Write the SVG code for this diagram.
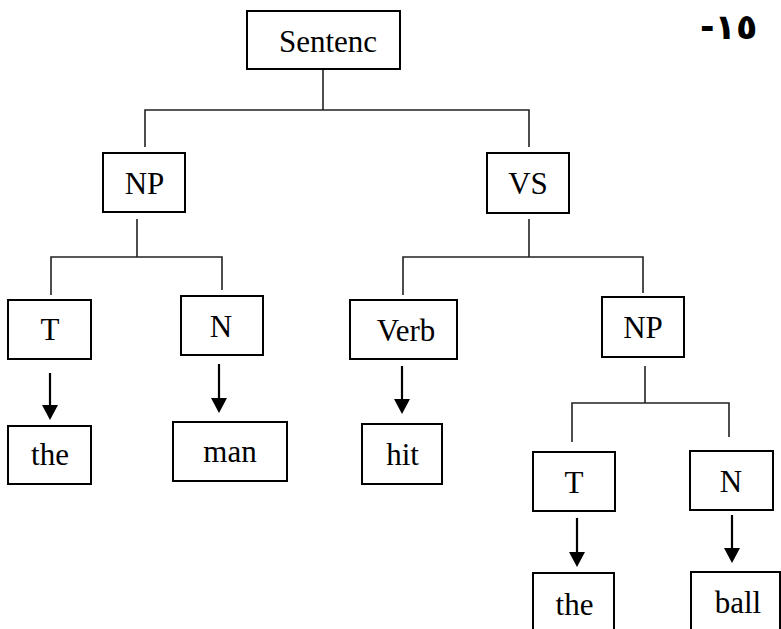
<svg xmlns="http://www.w3.org/2000/svg" width="781" height="629" viewBox="0 0 781 629">
<style>
.box{fill:#fff;stroke:#000;stroke-width:2}
.lbl{font-family:"Liberation Serif","Times New Roman",serif;font-size:31px;fill:#000;text-anchor:middle}
.ln{stroke:#222;stroke-width:1.6;fill:none}
.arr{stroke:#000;stroke-width:2.2;fill:none;marker-end:url(#ah)}
</style>
<defs>
<marker id="ah" markerUnits="userSpaceOnUse" viewBox="0 0 15 16" markerWidth="15" markerHeight="16" refX="0" refY="8" orient="auto">
<path d="M0,0 L15,8 L0,16 z" fill="#000"/>
</marker>
</defs>
<rect width="781" height="629" fill="#fff"/>
<g id="connectors">
<path class="ln" d="M323,69 V110 M145,147 V110 H529 V147"/>
<path class="ln" d="M137,219 V257 M51,295 V257 H222 V290"/>
<path class="ln" d="M529,219 V257 M403,295 V257 H643 V293"/>
<path class="ln" d="M645,366 V403 M572,442 V403 H729 V437"/>
<line class="arr" x1="50" y1="373" x2="50" y2="405"/>
<line class="arr" x1="219" y1="364" x2="219" y2="398"/>
<line class="arr" x1="402" y1="366" x2="402" y2="399"/>
<line class="arr" x1="577" y1="518" x2="577" y2="552"/>
<line class="arr" x1="732" y1="515" x2="732" y2="548"/>
</g>
<g id="sentence"><rect class="box" x="247" y="11" width="153" height="58"/><text class="lbl" x="328" y="52">Sentenc</text></g>
<g id="np1"><rect class="box" x="103" y="153" width="82" height="59"/><text class="lbl" x="144.5" y="194">NP</text></g>
<g id="vs"><rect class="box" x="487" y="153" width="82" height="60"/><text class="lbl" x="528" y="194">VS</text></g>
<g id="t1"><rect class="box" x="8" y="300" width="83" height="59"/><text class="lbl" x="50" y="340">T</text></g>
<g id="n1"><rect class="box" x="181" y="296" width="82" height="59"/><text class="lbl" x="221" y="337">N</text></g>
<g id="verb"><rect class="box" x="350" y="300" width="107" height="59"/><text class="lbl" x="406" y="341">Verb</text></g>
<g id="np2"><rect class="box" x="602" y="297" width="82" height="60"/><text class="lbl" x="643" y="338">NP</text></g>
<g id="the1"><rect class="box" x="8" y="426" width="83" height="58"/><text class="lbl" x="50" y="465">the</text></g>
<g id="man"><rect class="box" x="173" y="422" width="114" height="59"/><text class="lbl" x="230" y="462">man</text></g>
<g id="hit"><rect class="box" x="362" y="424" width="80" height="60"/><text class="lbl" x="402.5" y="465">hit</text></g>
<g id="t2"><rect class="box" x="533" y="452" width="82" height="59"/><text class="lbl" x="574" y="493">T</text></g>
<g id="n2"><rect class="box" x="690" y="451" width="83" height="59"/><text class="lbl" x="731" y="492">N</text></g>
<g id="the2"><rect class="box" x="533" y="573" width="81" height="70"/><text class="lbl" x="574.5" y="615">the</text></g>
<g id="ball"><rect class="box" x="691" y="572" width="89" height="70"/><text class="lbl" x="738" y="613">ball</text></g>
<text x="700" y="39" font-family="'DejaVu Sans',sans-serif" font-weight="bold" font-size="35" fill="#000">-١٥</text>
</svg>
